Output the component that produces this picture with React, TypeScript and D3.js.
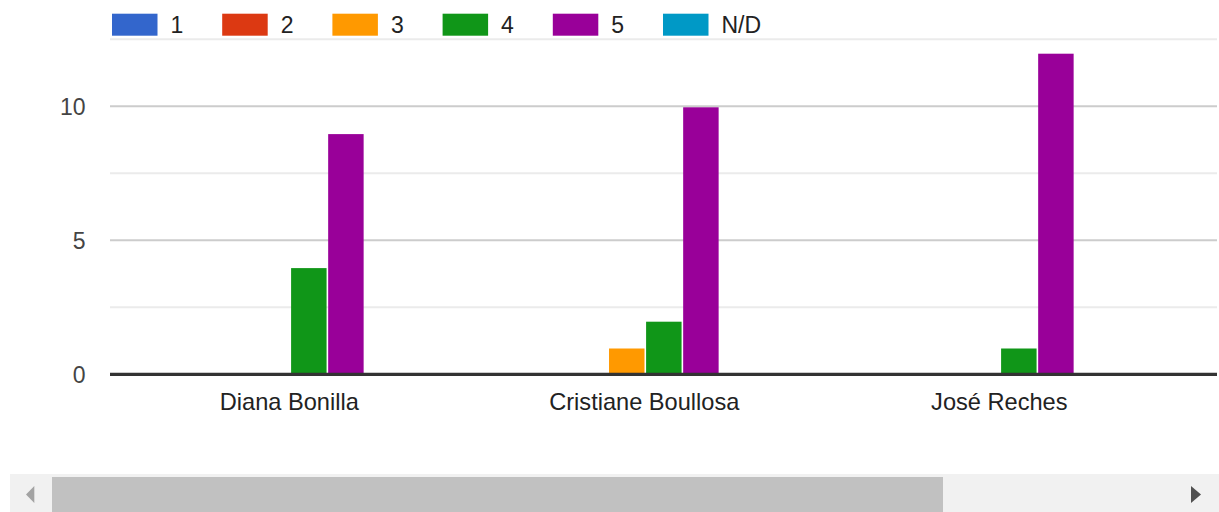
import React from "react";
import * as d3 from "d3";

const categories = ["Diana Bonilla", "Cristiane Boullosa", "José Reches"];
const seriesNames = ["1", "2", "3", "4", "5", "N/D"];
const seriesColors = ["#3366cc", "#dc3912", "#ff9900", "#109618", "#990099", "#0099c6"];
const values1 = [0, 0, 0];
const values2 = [0, 0, 0];
const values3 = [0, 1, 0];
const values4 = [4, 2, 1];
const values5 = [9, 10, 12];
const valuesND = [0, 0, 0];
const seriesValues = [values1, values2, values3, values4, values5, valuesND];
const majorTicks = [0, 5, 10];
const gridTicks = [2.5, 5, 7.5, 10, 12.5];

const W = 1219;
const H = 512;
const FONT = "Arial, 'Liberation Sans', sans-serif";

export default function App() {
  const x0 = d3
    .scaleBand<string>()
    .domain(categories)
    .range([112.8, 1177.8])
    .paddingInner(0.378)
    .paddingOuter(0.189);
  const x1 = d3
    .scaleBand<string>()
    .domain(seriesNames)
    .range([0, x0.bandwidth()])
    .paddingInner(0.043)
    .paddingOuter(0);
  const y = d3.scaleLinear().domain([0, 12.5]).range([374.3, 39.3]);

  const gridLeft = 110;
  const gridRight = 1217;

  return (
    <div style={{ position: "fixed", left: 0, top: 0, width: W, height: H, background: "#fff" }}>
      <svg width={W} height={H} style={{ display: "block" }} fontFamily={FONT}>
        {/* legend */}
        {seriesNames.map((s, i) => (
          <g key={s} transform={`translate(${112 + i * 110.2},0)`}>
            <rect x={0} y={13.7} width={45.5} height={22} fill={seriesColors[i]} />
            <text x={58.5} y={33.3} fontSize={23} fill="#222">
              {s}
            </text>
          </g>
        ))}
        {/* grid */}
        {gridTicks.map((t) => (
          <line
            key={t}
            x1={gridLeft}
            x2={gridRight}
            y1={y(t)}
            y2={y(t)}
            stroke={majorTicks.includes(t) ? "#cccccc" : "#ebebeb"}
            strokeWidth={2}
          />
        ))}
        {/* y tick labels */}
        {majorTicks.map((t) => (
          <text
            key={t}
            x={85.5}
            y={y(t)}
            dy="0.36em"
            textAnchor="end"
            fontSize={23}
            fill="#444"
          >
            {t}
          </text>
        ))}
        {/* bars */}
        {categories.map((c, ci) => (
          <g key={c} transform={`translate(${x0(c)},0)`}>
            {seriesNames.map((s, si) => {
              const v = seriesValues[si][ci];
              if (!v) return null;
              return (
                <rect
                  key={s}
                  x={x1(s)}
                  y={y(v) + 1}
                  width={x1.bandwidth()}
                  height={y(0) - y(v) - 1}
                  fill={seriesColors[si]}
                />
              );
            })}
          </g>
        ))}
        {/* baseline */}
        <line x1={gridLeft} x2={gridRight} y1={y(0)} y2={y(0)} stroke="#333333" strokeWidth={3.3} />
        {/* category labels */}
        {categories.map((c) => (
          <text
            key={c}
            x={(x0(c) as number) + x0.bandwidth() / 2 - 1}
            y={410}
            textAnchor="middle"
            fontSize={23.6}
            fill="#222"
          >
            {c}
          </text>
        ))}
        {/* scrollbar */}
        <rect x={10} y={474} width={W - 10} height={H - 474} fill="#f1f1f1" />
        <rect x={52} y={477} width={943 - 52} height={H - 477} fill="#c1c1c1" />
        <path d="M26,494.5 L34.3,486 L34.3,503 Z" fill="#a3a3a3" />
        <path d="M1191,486 L1201,494.5 L1191,503 Z" fill="#505050" />
      </svg>
    </div>
  );
}
